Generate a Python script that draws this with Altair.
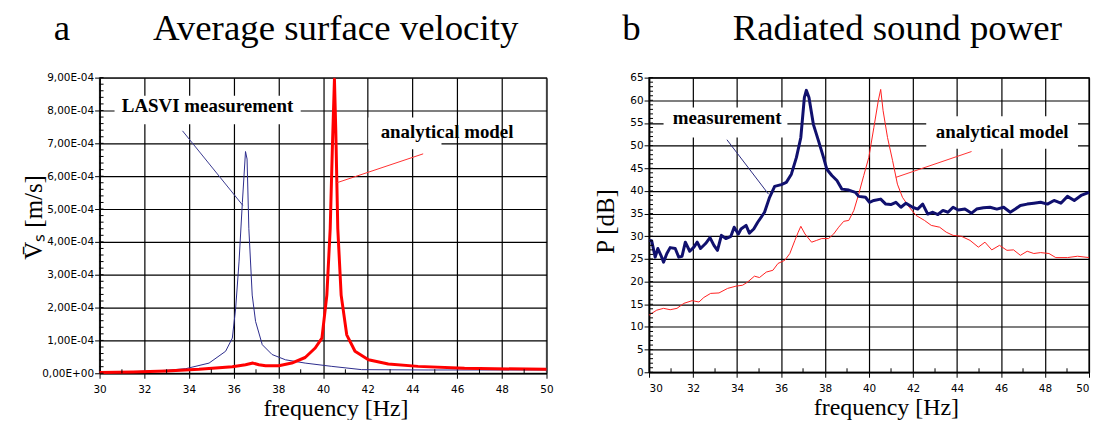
import altair as alt
import pandas as pd

# ---------------- panel a: average surface velocity ----------------
lasvi_freq = [30.0, 31.0, 32.0, 33.0, 33.86, 34.9, 35.64, 35.94, 36.09, 36.24, 36.39, 36.53,
              36.6, 36.68, 36.83, 36.98, 37.28, 37.72, 38.32, 39.2, 40.39, 41.73, 44.7, 47.0, 50.0]
lasvi_vel = [0.02e-4, 0.04e-4, 0.06e-4, 0.09e-4, 0.14e-4, 0.31e-4, 0.67e-4, 1.07e-4, 1.98e-4,
             3.39e-4, 5.2e-4, 6.75e-4, 6.52e-4, 4.4e-4, 2.38e-4, 1.58e-4, 0.87e-4, 0.57e-4,
             0.41e-4, 0.31e-4, 0.21e-4, 0.11e-4, 0.10e-4, 0.10e-4, 0.10e-4]

model_a_freq = [30.0, 31.5, 33.0, 34.45, 35.94, 36.53, 36.86, 37.13, 37.43, 38.02, 38.6, 39.2,
                39.65, 39.95, 40.17, 40.32, 40.42, 40.51, 40.57, 40.66, 40.81, 41.06, 41.43,
                42.03, 42.92, 44.25, 46.33, 50.0]
model_a_vel = [0.02e-4, 0.04e-4, 0.07e-4, 0.12e-4, 0.2e-4, 0.26e-4, 0.31e-4, 0.26e-4, 0.23e-4,
               0.23e-4, 0.31e-4, 0.48e-4, 0.77e-4, 1.07e-4, 2.38e-4, 4.4e-4, 6.93e-4, 8.95e-4,
               7.4e-4, 4.4e-4, 2.38e-4, 1.17e-4, 0.67e-4, 0.41e-4, 0.28e-4, 0.21e-4, 0.15e-4,
               0.12e-4]

a_label_text = ["LASVI measurement", "analytical model"]
a_label_freq = [34.83, 45.55]
a_label_vel = [8.15e-4, 7.33e-4]
a_box_f1 = [30.67, 42.03]
a_box_f2 = [39.0, 45.3]
a_box_v1 = [7.58e-4, 6.82e-4]
a_box_v2 = [8.45e-4, 7.79e-4]
a_lead_f1 = [33.71, 44.48]
a_lead_v1 = [7.38e-4, 6.68e-4]
a_lead_f2 = [36.41, 40.62]
a_lead_v2 = [5.11e-4, 5.8e-4]
a_lead_color = ["#3a3a90", "#ff3030"]

a_y_ticks = [0.0, 1e-4, 2e-4, 3e-4, 4e-4, 5e-4, 6e-4, 7e-4, 8e-4, 9e-4]
a_y_minor = [round(i * 0.2e-4, 8) for i in range(46)]

# ---------------- panel b: radiated sound power ----------------
meas_freq = [30.00, 30.12, 30.28, 30.40, 30.54, 30.66, 30.81, 30.96, 31.19, 31.35, 31.50, 31.65,
             31.85, 32.04, 32.19, 32.34, 32.57, 32.77, 32.95, 33.11, 33.29, 33.49, 33.72, 33.87,
             34.06, 34.18, 34.41, 34.56, 34.76, 34.94, 35.25, 35.48, 35.71, 36.01, 36.24, 36.47,
             36.70, 36.90, 37.06, 37.15, 37.27, 37.47, 37.70, 37.93, 38.08, 38.31, 38.54, 38.77,
             39.08, 39.38, 39.53, 39.84, 40.02, 40.22, 40.53, 40.76, 40.99, 41.22, 41.45, 41.68,
             41.98, 42.21, 42.44, 42.67, 42.90, 43.13, 43.36, 43.59, 43.82, 44.05, 44.36, 44.66,
             44.89, 45.20, 45.50, 45.81, 46.12, 46.42, 46.65, 46.88, 47.19, 47.49, 47.80, 48.11,
             48.41, 48.72, 49.02, 49.33, 49.64, 50.00]
meas_power = [29.1, 29.0, 25.4, 27.3, 25.8, 24.3, 26.2, 27.5, 27.3, 25.4, 25.6, 28.7,
              26.7, 27.6, 28.7, 27.3, 28.4, 29.7, 28.0, 26.9, 30.2, 29.5, 30.0, 32.0,
              30.5, 31.6, 32.4, 30.7, 31.6, 33.1, 35.3, 38.6, 41.0, 41.4, 41.9, 43.7,
              47.4, 51.8, 60.6, 62.2, 60.6, 54.7, 51.1, 47.4, 44.8, 43.4, 42.3, 40.4,
              40.2, 39.7, 38.8, 38.6, 37.5, 37.9, 38.2, 37.1, 37.0, 37.5, 36.4, 37.3,
              36.4, 36.0, 37.1, 34.9, 35.3, 34.8, 35.7, 35.3, 36.4, 35.8, 36.0, 35.1,
              36.0, 36.3, 36.4, 36.0, 36.4, 35.3, 36.0, 36.8, 37.1, 37.3, 37.5, 37.1,
              37.9, 37.3, 38.8, 37.9, 39.0, 39.7]

model_b_freq = [30.00, 30.35, 30.66, 30.96, 31.27, 31.58, 31.96, 32.27, 32.49, 32.80, 33.18,
                33.57, 33.95, 34.25, 34.48, 34.79, 35.02, 35.33, 35.63, 35.86, 36.17, 36.40,
                36.63, 36.78, 36.90, 37.09, 37.39, 37.62, 37.85, 38.16, 38.39, 38.62, 38.85,
                39.08, 39.31, 39.53, 39.76, 39.99, 40.22, 40.42, 40.53, 40.64, 40.84, 41.07,
                41.29, 41.52, 41.83, 42.14, 42.52, 42.83, 43.21, 43.51, 43.82, 44.20, 44.59,
                44.97, 45.27, 45.58, 45.93, 46.27, 46.57, 46.88, 47.19, 47.49, 47.80, 48.18,
                48.49, 49.02, 49.48, 50.00]
model_b_power = [12.6, 13.7, 14.1, 13.8, 14.1, 15.2, 15.8, 15.5, 16.5, 17.4, 17.5,
                 18.5, 19.0, 19.2, 19.9, 21.2, 20.9, 22.1, 22.5, 24.0, 24.7, 26.2,
                 29.1, 30.9, 32.2, 30.5, 28.7, 29.1, 29.5, 29.5, 30.5, 32.0, 33.3,
                 33.5, 35.7, 39.3, 43.4, 47.4, 54.0, 59.9, 62.4, 57.7, 51.8, 46.7,
                 41.5, 38.6, 36.4, 34.6, 33.5, 32.4, 32.0, 30.9, 30.2, 30.0, 29.1,
                 27.6, 28.7, 27.0, 28.0, 26.9, 27.0, 25.8, 26.7, 26.2, 26.4, 26.2,
                 25.3, 25.3, 25.6, 25.3]

b_label_text = ["measurement", "analytical model"]
b_label_freq = [33.55, 46.05]
b_label_pow = [56.0, 53.1]
b_box_f1 = [30.66, 42.6]
b_box_f2 = [36.29, 49.5]
b_box_p1 = [51.8, 49.3]
b_box_p2 = [58.4, 56.5]
b_lead_f1 = [33.54, 44.66]
b_lead_p1 = [51.3, 48.7]
b_lead_f2 = [35.43, 41.22]
b_lead_p2 = [39.3, 43.0]
b_lead_color = ["#2a2a80", "#ff3030"]

b_y_ticks = list(range(0, 66, 5))
b_y_minor = list(range(0, 66, 1))

x_ticks = list(range(30, 51, 2))
x_minor = list(range(31, 50, 2))

NB = "\u00a0"
SERIF = "Liberation Serif"
SANS = "DejaVu Sans"

# ---------------- build panel a ----------------
WA, HA = 449, 297
ax_xa = alt.Axis(values=x_ticks, format="d", title="frequency [Hz]", labelOverlap=False,
                 labelFlush=False, labelPadding=6,
                 titleX=237, titleY=42, titleBaseline="alphabetic",
                 titleFont=SERIF, titleFontSize=24, titleFontWeight="normal", titleColor="black")
ax_ya = alt.Axis(values=a_y_ticks, title="V\u0304\u209b  [m/s]", labelOverlap=False,
                 labelExpr="datum.value < 1e-6 ? '0,00E+00' : replace(format(datum.value*10000, '.2f'), '.', ',') + 'E-04'",
                 titleX=-58, titleY=140, titleBaseline="alphabetic", titleAngle=270,
                 titleFont=SERIF, titleFontSize=25, titleFontWeight="normal", titleColor="black")
sx_a = alt.Scale(domain=[30, 50], nice=False)
sy_a = alt.Scale(domain=[0, 9e-4], nice=False)


def xa(field="f"):
    return alt.X(f"{field}:Q", scale=sx_a, axis=ax_xa)


def ya(field="v"):
    return alt.Y(f"{field}:Q", scale=sy_a, axis=ax_ya)


df_lasvi = pd.DataFrame({"f": lasvi_freq, "v": lasvi_vel})
df_ma = pd.DataFrame({"f": model_a_freq, "v": model_a_vel})
df_a_box = pd.DataFrame({"f": a_box_f1, "f2": a_box_f2, "v": a_box_v1, "v2": a_box_v2})
df_a_lab = pd.DataFrame({"f": a_label_freq, "v": a_label_vel, "t": a_label_text})
df_a_lead = pd.DataFrame({"f": a_lead_f1, "v": a_lead_v1, "f2": a_lead_f2, "v2": a_lead_v2,
                          "c": a_lead_color})
df_a_ym = pd.DataFrame({"v": a_y_minor})
df_a_xm = pd.DataFrame({"f": x_minor})

a_lasvi = alt.Chart(df_lasvi).mark_line(color="#2b2b8c", strokeWidth=1).encode(x=xa(), y=ya())
a_model = alt.Chart(df_ma).mark_line(color="#ff0000", strokeWidth=3, strokeJoin="round").encode(x=xa(), y=ya())
a_box = alt.Chart(df_a_box).mark_rect(fill="white").encode(x=xa(), x2="f2", y=ya(), y2="v2")
a_lead = alt.Chart(df_a_lead).mark_rule(strokeWidth=1).encode(
    x=xa(), y=ya(), x2="f2", y2="v2", color=alt.Color("c:N", scale=None))
a_text = alt.Chart(df_a_lab).mark_text(font=SERIF, fontSize=19, fontWeight="bold",
                                       color="black", baseline="middle").encode(
    x=xa(), y=ya(), text="t:N")
a_ym = alt.Chart(df_a_ym).mark_rule(color="black", strokeWidth=1).encode(
    y=ya(), x=alt.value(0), x2=alt.value(4))
a_xm = alt.Chart(df_a_xm).mark_rule(color="black", strokeWidth=1).encode(
    x=xa(), y=alt.value(HA), y2=alt.value(HA - 4))

panel_a = alt.layer(a_box, a_lasvi, a_model, a_lead, a_text, a_ym, a_xm).properties(
    width=WA, height=HA,
    view=alt.ViewBackground(stroke="#9a9a9a", strokeWidth=1.5),
    title=alt.Title("a" + NB * 9 + "Average surface velocity", anchor="start", frame="group",
                    dx=-46, offset=25, font=SERIF, fontSize=37,
                    fontWeight="normal", color="black"))

# ---------------- build panel b ----------------
WB, HB = 442, 296
ax_xb = alt.Axis(values=x_ticks, format="d", title="frequency [Hz]", labelOverlap=False,
                 labelFlush=True, labelPadding=6,
                 titleX=238, titleY=42, titleBaseline="alphabetic",
                 titleFont=SERIF, titleFontSize=24, titleFontWeight="normal", titleColor="black")
ax_yb = alt.Axis(values=b_y_ticks, format="d", title="P [dB]", labelOverlap=False,
                 titleX=-36, titleY=144, titleBaseline="alphabetic", titleAngle=270,
                 titleFont=SERIF, titleFontSize=25, titleFontWeight="normal", titleColor="black")
sx_b = alt.Scale(domain=[30, 50], nice=False)
sy_b = alt.Scale(domain=[0, 65], nice=False)


def xb(field="f"):
    return alt.X(f"{field}:Q", scale=sx_b, axis=ax_xb)


def yb(field="p"):
    return alt.Y(f"{field}:Q", scale=sy_b, axis=ax_yb)


df_meas = pd.DataFrame({"f": meas_freq, "p": meas_power})
df_mb = pd.DataFrame({"f": model_b_freq, "p": model_b_power})
df_b_box = pd.DataFrame({"f": b_box_f1, "f2": b_box_f2, "p": b_box_p1, "p2": b_box_p2})
df_b_lab = pd.DataFrame({"f": b_label_freq, "p": b_label_pow, "t": b_label_text})
df_b_lead = pd.DataFrame({"f": b_lead_f1, "p": b_lead_p1, "f2": b_lead_f2, "p2": b_lead_p2,
                          "c": b_lead_color})
df_b_ym = pd.DataFrame({"p": b_y_minor})
df_b_xm = pd.DataFrame({"f": x_minor})

b_box = alt.Chart(df_b_box).mark_rect(fill="white").encode(x=xb(), x2="f2", y=yb(), y2="p2")
b_model = alt.Chart(df_mb).mark_line(color="#ff2020", strokeWidth=1).encode(x=xb(), y=yb())
b_meas = alt.Chart(df_meas).mark_line(color="#10106e", strokeWidth=3, strokeJoin="round").encode(x=xb(), y=yb())
b_lead = alt.Chart(df_b_lead).mark_rule(strokeWidth=1).encode(
    x=xb(), y=yb(), x2="f2", y2="p2", color=alt.Color("c:N", scale=None))
b_text = alt.Chart(df_b_lab).mark_text(font=SERIF, fontSize=19, fontWeight="bold",
                                       color="black", baseline="middle").encode(
    x=xb(), y=yb(), text="t:N")
b_ym = alt.Chart(df_b_ym).mark_rule(color="black", strokeWidth=1).encode(
    y=yb(), x=alt.value(0), x2=alt.value(4))
b_xm = alt.Chart(df_b_xm).mark_rule(color="black", strokeWidth=1).encode(
    x=xb(), y=alt.value(HB), y2=alt.value(HB - 4))

panel_b = alt.layer(b_box, b_model, b_meas, b_lead, b_text, b_ym, b_xm).properties(
    width=WB, height=HB,
    view=alt.ViewBackground(stroke="#333333", strokeWidth=1.5),
    title=alt.Title("b" + NB * 10 + "Radiated sound power", anchor="start", frame="group",
                    dx=-27, offset=25, font=SERIF, fontSize=37,
                    fontWeight="normal", color="black"))

chart = alt.hconcat(panel_a, panel_b, spacing=38).properties(
    padding={"left": 13, "top": 0, "right": 0, "bottom": -2},
    background="white",
).configure_axis(
    labelFont=SANS, labelFontSize=10.5, labelColor="black",
    domainColor="black", domainWidth=1.5,
    tickColor="black", tickSize=5, tickWidth=1,
    gridColor="black", gridWidth=1.2, grid=True,
).configure_axisY(labelPadding=1)

chart.save("out.html", embed_options={"renderer": "svg", "actions": False})
